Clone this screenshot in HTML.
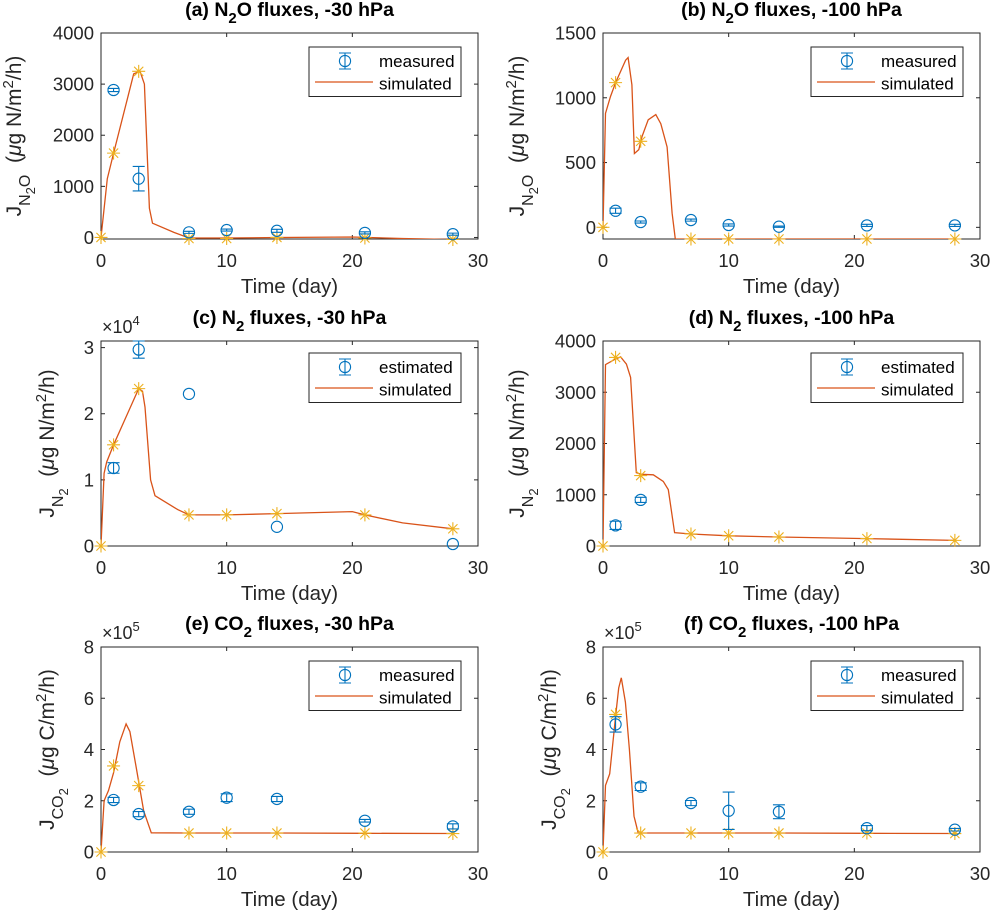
<!DOCTYPE html>
<html><head><meta charset="utf-8"><style>
html,body{margin:0;padding:0;background:#fff;}
svg{display:block;font-family:"Liberation Sans",Arial,sans-serif;}
</style></head><body>
<svg id="fig" width="991" height="912" viewBox="0 0 991 912" xmlns="http://www.w3.org/2000/svg">
<rect x="0" y="0" width="991" height="912" fill="#fff"/>
</svg>
<script>
// ---------- data ----------
const xTicks=[0,10,20,30];
const measDays=[1,3,7,10,14,21,28];
const simDays=[0,1,3,7,10,14,21,28];
// (a) N2O -30 hPa
const aMeasVals=[2885,1150,100,145,130,90,65];
const aMeasErr=[30,240,20,20,30,20,20];
const aSimMarks=[0,1650,3250,-20,-20,0,-10,-40];
const aCurveT=[0,0.5,1,2.6,3.1,3.45,3.85,4.1,5.8,7,10,14,20,24,28];
const aCurveV=[0,1150,1650,3200,3250,3000,570,280,100,-10,-10,0,10,-20,-40];
const aYTicks=[0,1000,2000,3000,4000];
// (b) N2O -100 hPa
const bMeasVals=[128,41,56,18,5,15,15];
const bMeasErr=[20,8,8,8,5,8,8];
const bSimMarks=[0,1117,664,-90,-90,-90,-90,-90];
const bCurveT=[0,0.2,0.6,1,1.8,2,2.3,2.5,2.85,3.1,3.6,4.2,4.6,5.1,5.5,5.75,28];
const bCurveV=[0,880,1010,1117,1290,1310,1100,570,600,700,830,870,800,620,110,-90,-90];
const bYTicks=[0,500,1000,1500];
// (c) N2 -30 hPa (x1e4)
const cMeasVals=[1.18,2.97,2.30,0.29,0.03];
const cMeasErr=[0.08,0.13,0,0,0];
const cMeasDays=[1,3,7,14,28];
const cSimMarks=[0,1.53,2.38,0.47,0.47,0.49,0.47,0.26];
const cCurveT=[0,0.25,0.45,1,3,3.3,3.5,3.95,4.3,6.1,7,10,14,20,21,24,28];
const cCurveV=[0,1.1,1.27,1.53,2.38,2.34,2.1,1.0,0.76,0.55,0.47,0.47,0.49,0.52,0.47,0.35,0.26];
const cYTicks=[0,1,2,3];
// (d) N2 -100 hPa
const dMeasVals=[403,900];
const dMeasErr=[80,50];
const dMeasDays=[1,3];
const dSimMarks=[0,3680,1374,235,200,175,145,110];
const dCurveT=[0,0.2,0.93,1.4,1.86,2.2,2.65,3.05,4,4.8,5.2,5.7,7,10,14,21,28];
const dCurveV=[0,3540,3640,3690,3550,3290,1430,1400,1390,1260,1100,260,235,200,175,145,110];
const dYTicks=[0,1000,2000,3000,4000];
// (e) CO2 -30 hPa (x1e5)
const eMeasVals=[2.03,1.48,1.57,2.12,2.07,1.22,1.0];
const eMeasErr=[0.1,0.1,0.1,0.15,0.1,0.05,0.1];
const eSimMarks=[0,3.36,2.59,0.74,0.74,0.74,0.74,0.72];
const eCurveT=[0,0.25,0.6,1,1.5,2,2.3,2.8,3.4,4,7,14,21,28];
const eCurveV=[0,2.0,2.4,3.1,4.3,5.0,4.7,3.3,1.6,0.75,0.74,0.74,0.73,0.72];
const eYTicks=[0,2,4,6,8];
// (f) CO2 -100 hPa (x1e5)
const fMeasVals=[4.98,2.55,1.91,1.61,1.57,0.93,0.87];
const fMeasErr=[0.3,0.15,0.1,0.73,0.27,0.1,0.05];
const fSimMarks=[0,5.37,0.74,0.74,0.74,0.74,0.74,0.72];
const fCurveT=[0,0.2,0.53,1,1.25,1.46,1.78,2.1,2.47,2.8,7,14,21,28];
const fCurveV=[0,2.6,3.05,5.3,6.4,6.8,5.85,4.0,1.4,0.74,0.74,0.74,0.73,0.72];
const fYTicks=[0,2,4,6,8];

// ---------- layout ----------
const NS="http://www.w3.org/2000/svg";
const svg=document.getElementById('fig');
const AX='#262626', BLUE='#0072BD', ORANGE='#D95319', YEL='#EDB120';
function el(tag,attrs,parent){const e=document.createElementNS(NS,tag);for(const k in attrs)e.setAttribute(k,attrs[k]);(parent||svg).appendChild(e);return e;}

const panels=[
 {id:'a',L:101,T:33,W:377,H:206,ymin:-30,ymax:4000,yt:aYTicks,md:measDays,mv:aMeasVals,me:aMeasErr,sm:aSimMarks,ct:aCurveT,cv:aCurveV,
  title:['(a) N','2','O fluxes, -30 hPa'],sub:['N','2','O'],unit:'N',leg:'measured',exp:null,ylx:21},
 {id:'b',L:603,T:33,W:377,H:206,ymin:-90,ymax:1500,yt:bYTicks,md:measDays,mv:bMeasVals,me:bMeasErr,sm:bSimMarks,ct:bCurveT,cv:bCurveV,
  title:['(b) N','2','O fluxes, -100 hPa'],sub:['N','2','O'],unit:'N',leg:'measured',exp:null,ylx:524},
 {id:'c',L:101,T:341,W:377,H:205,ymin:0,ymax:3.1,yt:cYTicks,md:cMeasDays,mv:cMeasVals,me:cMeasErr,sm:cSimMarks,ct:cCurveT,cv:cCurveV,
  title:['(c) N','2',' fluxes, -30 hPa'],sub:['N','2',''],unit:'N',leg:'estimated',exp:'4',ylx:54},
 {id:'d',L:603,T:341,W:377,H:205,ymin:0,ymax:4000,yt:dYTicks,md:dMeasDays,mv:dMeasVals,me:dMeasErr,sm:dSimMarks,ct:dCurveT,cv:dCurveV,
  title:['(d) N','2',' fluxes, -100 hPa'],sub:['N','2',''],unit:'N',leg:'estimated',exp:null,ylx:524},
 {id:'e',L:101,T:647,W:377,H:205,ymin:0,ymax:8,yt:eYTicks,md:measDays,mv:eMeasVals,me:eMeasErr,sm:eSimMarks,ct:eCurveT,cv:eCurveV,
  title:['(e) CO','2',' fluxes, -30 hPa'],sub:['CO','2',''],unit:'C',leg:'measured',exp:'5',ylx:54},
 {id:'f',L:603,T:647,W:377,H:205,ymin:0,ymax:8,yt:fYTicks,md:measDays,mv:fMeasVals,me:fMeasErr,sm:fSimMarks,ct:fCurveT,cv:fCurveV,
  title:['(f) CO','2',' fluxes, -100 hPa'],sub:['CO','2',''],unit:'C',leg:'measured',exp:'5',ylx:556},
];

panels.forEach(p=>{
  const g=el('g',{});
  
  
  const xs=t=>p.L+t/30*p.W;
  const ys=v=>p.T+p.H-(v-p.ymin)/(p.ymax-p.ymin)*p.H;
  const B=p.T+p.H;
  const cp=el('clipPath',{id:'clip'+p.id},g);
  el('rect',{x:p.L,y:p.T,width:p.W,height:p.H},cp);
  const box=el('rect',{x:p.L,y:p.T,width:p.W,height:p.H,fill:'#fff',stroke:AX,'stroke-width':1},g);
  
  
  xTicks.forEach(t=>{
    const x=xs(t);
    el('line',{x1:x,y1:B,x2:x,y2:B-4,stroke:AX},g);
    el('line',{x1:x,y1:p.T,x2:x,y2:p.T+4,stroke:AX},g);
    const tl=el('text',{x:x,y:B+28,'font-size':18.5,fill:AX,'text-anchor':'middle'},g);
    tl.textContent=t;
    
    
  });
  p.yt.forEach(v=>{
    const y=ys(v);
    el('line',{x1:p.L,y1:y,x2:p.L+4,y2:y,stroke:AX},g);
    el('line',{x1:p.L+p.W,y1:y,x2:p.L+p.W-4,y2:y,stroke:AX},g);
    const tl=el('text',{x:p.L-7,y:y+6.5,'font-size':18.5,fill:AX,'text-anchor':'end'},g);
    tl.textContent=v;
    
    
  });
  if(p.exp){
    const ex=el('text',{x:p.L+1,y:p.T-8,'font-size':18,fill:AX},g);
    
    
    ex.innerHTML='×10<tspan dy="-8" font-size="13">'+p.exp+'</tspan>';
  }
  const xl=el('text',{x:p.L+p.W/2,y:B+54,'font-size':20.5,fill:AX,'text-anchor':'middle'},g);
  xl.textContent='Time (day)';
  
  
  const tt=el('text',{x:p.L+p.W/2,y:p.T-17,'font-size':19.5,'font-weight':'bold',fill:'#000','text-anchor':'middle'},g);
  tt.innerHTML=p.title[0]+'<tspan dy="7" font-size="15">'+p.title[1]+'</tspan><tspan dy="-7">'+p.title[2]+'</tspan>';
  
  
  const cy=p.T+p.H/2;
  const yl=el('text',{x:p.ylx,y:cy,'font-size':21,fill:AX,'text-anchor':'middle',transform:'rotate(-90 '+p.ylx+' '+cy+')'},g);
  let s='J<tspan dy="9" font-size="16">'+p.sub[0]+'</tspan><tspan dy="5" font-size="13">'+p.sub[1]+'</tspan>';
  if(p.sub[2]) s+='<tspan dy="-5" font-size="16">'+p.sub[2]+'</tspan><tspan dy="-9">';
  else s+='<tspan dy="-14">';
  s+='\u00a0\u00a0(<tspan font-style="italic">μ</tspan>g '+p.unit+'/m<tspan dy="-8" font-size="15">2</tspan><tspan dy="8">/h)</tspan></tspan>';
  yl.innerHTML=s;
  
  
  let d='';
  p.ct.forEach((t,i)=>{d+=(i?'L':'M')+xs(t).toFixed(1)+' '+ys(p.cv[i]).toFixed(1);});
  const path=el('path',{d:d,fill:'none',stroke:ORANGE,'stroke-width':1.3,'clip-path':'url(#clip'+p.id+')'},g);
  
  
  simDays.forEach((t,i)=>{
    const x=xs(t),y=ys(p.sm[i]);
    const m=el('path',{d:`M${x-6.5} ${y}H${x+6.5}M${x} ${y-6.5}V${y+6.5}M${x-4.6} ${y-4.6}L${x+4.6} ${y+4.6}M${x-4.6} ${y+4.6}L${x+4.6} ${y-4.6}`,stroke:YEL,'stroke-width':1.1,fill:'none'},g);
    
    
  });
  p.md.forEach((t,i)=>{
    const x=xs(t),y=ys(p.mv[i]);
    const mg=el('g',{stroke:BLUE,'stroke-width':1.1,fill:'none'},g);
    
    
    if(p.me[i]>0){
      const y1=ys(p.mv[i]+p.me[i]),y2=ys(p.mv[i]-p.me[i]);
      el('path',{d:`M${x} ${y1}V${y2}M${x-6} ${y1}H${x+6}M${x-6} ${y2}H${x+6}`},mg);
    }
    el('circle',{cx:x,cy:y,r:5.6},mg);
  });
  const lx=p.L+p.W-169, ly=p.T+(p.id==='c'||p.id==='d'?12:14);
  const lg=el('g',{},g);
  
  
  el('rect',{x:lx,y:ly,width:152,height:49.5,fill:'#fff',stroke:AX,'stroke-width':1},lg);
  const cx=lx+36;
  el('path',{d:`M${cx} ${ly+6}V${ly+22}M${cx-6} ${ly+6}H${cx+6}M${cx-6} ${ly+22}H${cx+6}`,stroke:BLUE,'stroke-width':1.1},lg);
  el('circle',{cx:cx,cy:ly+14,r:5.6,stroke:BLUE,'stroke-width':1.1,fill:'none'},lg);
  el('line',{x1:lx+6,y1:ly+35,x2:lx+64,y2:ly+35,stroke:ORANGE,'stroke-width':1.3},lg);
  const t1=el('text',{x:lx+70,y:ly+20,'font-size':17,fill:'#000'},lg);
  t1.textContent=p.leg;
  
  
  const t2=el('text',{x:lx+70,y:ly+42.5,'font-size':17,fill:'#000'},lg);
  t2.textContent='simulated';
  
  
});
</script>
</body></html>
